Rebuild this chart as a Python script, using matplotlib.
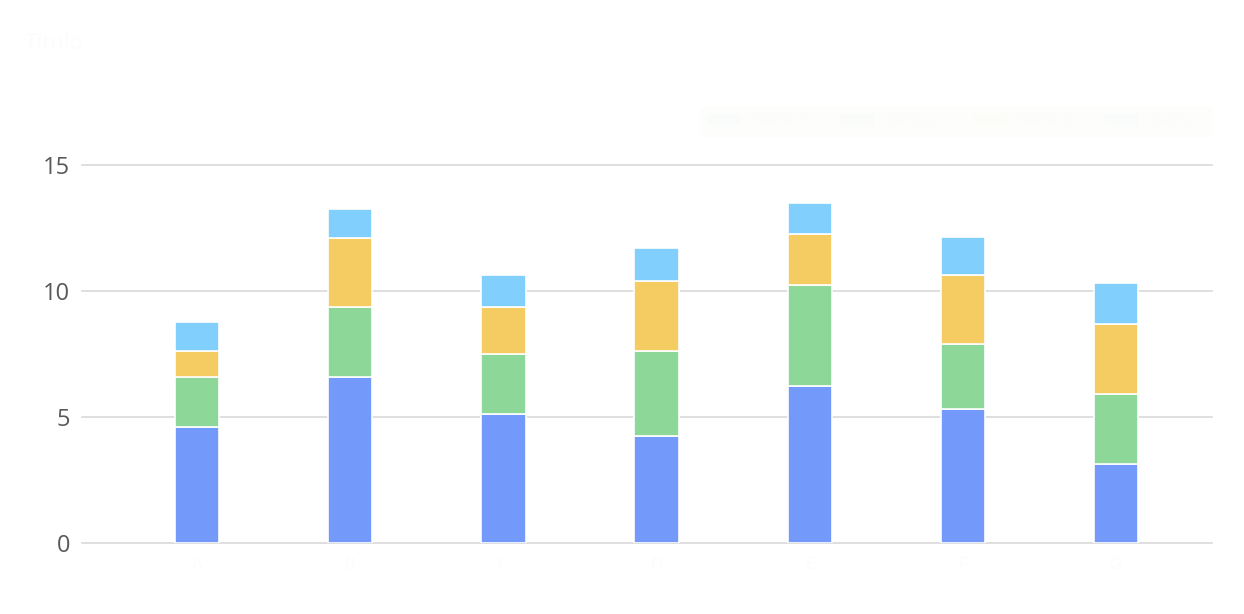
import matplotlib.pyplot as plt
import numpy as np

plt.rcParams['font.family'] = ['Open Sans', 'DejaVu Sans']

# Datos
categorias = ['A', 'B', 'C', 'D', 'E', 'F', 'G']
serie_1 = [4.6, 6.6, 5.1, 4.25, 6.25, 5.3, 3.15]
serie_2 = [2.0, 2.75, 2.4, 3.35, 4.0, 2.6, 2.75]
serie_3 = [1.0, 2.75, 1.85, 2.8, 2.0, 2.75, 2.8]
serie_4 = [1.15, 1.15, 1.3, 1.3, 1.25, 1.5, 1.6]
nombres = ['Serie 1', 'Serie 2', 'Serie 3', 'Serie 4']
colores = ['#7399fb', '#8dd799', '#f4cc62', '#80cffc']

fig = plt.figure(figsize=(12.44, 6.14), dpi=100)
ax = fig.add_axes([0.0659, 0.1156, 0.9084, 0.6157])

x = np.arange(len(categorias))
base = np.zeros(len(categorias))
barras = []
for vals, col, nom in zip([serie_1, serie_2, serie_3, serie_4], colores, nombres):
    b = ax.bar(x, vals, bottom=base, width=0.29, color=col, edgecolor='white',
               linewidth=1.2, label=nom, zorder=3)
    barras.append(b)
    base = base + np.array(vals)

ax.set_xlim(-0.75, 6.625)
ax.set_ylim(0, 15)
ax.set_yticks([0, 5, 10, 15])
ax.yaxis.grid(True, color='#d9d9d9', linewidth=1.2, zorder=0)
for linea in ax.get_ygridlines():
    linea.set_clip_on(False)
ax.set_axisbelow(True)
for s in ax.spines.values():
    s.set_visible(False)
ax.tick_params(axis='y', length=0, pad=8.5, labelsize=17, labelcolor='#595959')
ax.set_xticks(x)
ax.set_xticklabels(categorias)
ax.tick_params(axis='x', length=0, pad=10, labelsize=12, labelcolor='#fcfcfc')

# Título y leyenda casi invisibles, como en el original
fig.text(0.02, 0.92, 'Título', fontsize=16, color='#fcfcfc')
leg = fig.legend(handles=barras, loc='upper right', bbox_to_anchor=(0.98, 0.84),
                 ncol=4, frameon=True, fontsize=12, labelcolor='#fcfcfc')
leg.get_frame().set_facecolor('#fdfdfc')
leg.get_frame().set_edgecolor('#fdfdfc')
for h in leg.legend_handles:
    h.set_alpha(0.02)

fig.savefig('out.png', dpi=100, facecolor='white')
plt.close()
